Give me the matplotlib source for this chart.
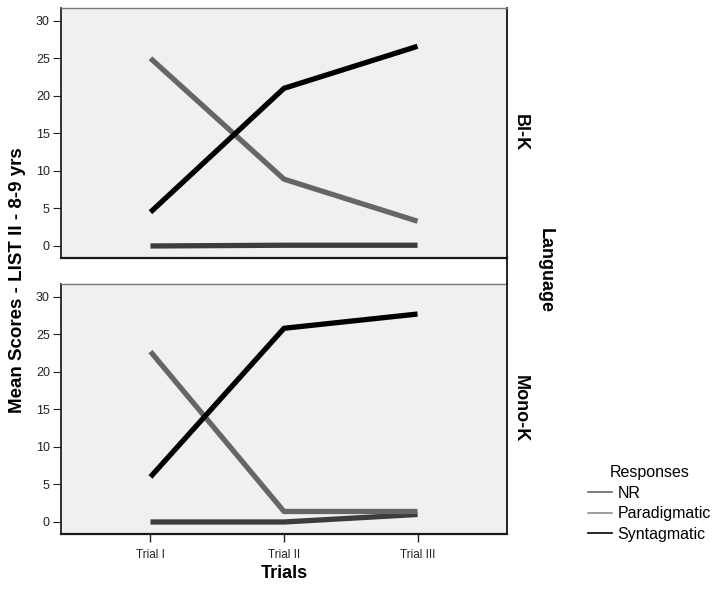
import matplotlib
matplotlib.use("Agg")
import matplotlib.pyplot as plt
from matplotlib.lines import Line2D

plt.rcParams["font.family"] = ["Liberation Sans", "DejaVu Sans"]

trials = ["Trial I", "Trial II", "Trial III"]
groups = ["Bl-K", "Mono-K"]
responses = ["NR", "Paradigmatic", "Syntagmatic"]

# mean scores per group, one list per response type
bl_nr = [0.0, 0.1, 0.1]
bl_paradigmatic = [25.0, 8.9, 3.3]
bl_syntagmatic = [4.5, 21.0, 26.6]

mono_nr = [0.0, 0.0, 1.0]
mono_paradigmatic = [22.7, 1.4, 1.4]
mono_syntagmatic = [6.0, 25.8, 27.7]

series = {
    "Bl-K": [bl_nr, bl_paradigmatic, bl_syntagmatic],
    "Mono-K": [mono_nr, mono_paradigmatic, mono_syntagmatic],
}

line_colors = ["#3c3c3c", "#666666", "#000000"]
legend_colors = ["#666666", "#8c8c8c", "#000000"]

fig = plt.figure(figsize=(7.15, 5.9), dpi=100)

left, width, height = 61 / 715, 446 / 715, 250 / 590
bottoms = [1 - 258 / 590, 1 - 534 / 590]

x = list(range(len(trials)))
axes = []
for g, b in zip(groups, bottoms):
    ax = fig.add_axes([left, b, width, height])
    ax.set_facecolor("#f0f0f0")
    for vals, col in zip(series[g], line_colors):
        ax.plot(x, vals, color=col, lw=3.8, solid_capstyle="butt", zorder=3)
    ax.set_xlim(-0.67, 2.67)
    ax.set_ylim(-1.6, 31.7)
    ax.set_yticks([0, 5, 10, 15, 20, 25, 30])
    ax.tick_params(axis="y", direction="out", length=6, width=0.8,
                   labelsize=9, pad=2, colors="#222222")
    ax.spines["top"].set_color("#777777")
    ax.spines["top"].set_linewidth(1.0)
    ax.spines["bottom"].set_color("#1a1a1a")
    ax.spines["bottom"].set_linewidth(1.6)
    ax.spines["left"].set_color("#111111")
    ax.spines["left"].set_linewidth(1.2)
    ax.spines["right"].set_color("#000000")
    ax.spines["right"].set_linewidth(1.2)
    ax.text((520 / 715 - left) / width, 0.5, g, transform=ax.transAxes,
            rotation=-90, ha="center", va="center", fontsize=13,
            fontweight="bold")
    axes.append(ax)

axes[0].set_xticks([])
axes[1].set_xticks(x)
axes[1].set_xticklabels(trials)
axes[1].tick_params(axis="x", direction="out", length=6, width=1.0,
                    labelsize=8.5, pad=5, colors="#222222")

# right frame line runs through the gap between the two panels
xr = left + width
fig.add_artist(Line2D([xr, xr], [bottoms[1] + height, bottoms[0]],
                      transform=fig.transFigure, color="black", lw=1.2))

fig.text(18 / 715, 1 - 280 / 590, "Mean Scores - LIST II - 8-9 yrs",
         rotation=90, ha="center", va="center", fontsize=13.5, fontweight="bold")
fig.text(284 / 715, 1 - 573 / 590, "Trials", ha="center", va="center",
         fontsize=13, fontweight="bold")
fig.text(545 / 715, 1 - 271 / 590, "Language", rotation=-90, ha="center",
         va="center", fontsize=13, fontweight="bold")

handles = [Line2D([], [], color=c, lw=1.2) for c in legend_colors]
leg = fig.legend(handles, responses, title="Responses",
                 loc="upper left", bbox_to_anchor=(588 / 715, 1 - 465 / 590),
                 frameon=False, fontsize=11.5, title_fontsize=11.5,
                 handlelength=1.5, handletextpad=0.35, labelspacing=0.35,
                 borderpad=0, borderaxespad=0)

fig.savefig("out.png", dpi=100)
